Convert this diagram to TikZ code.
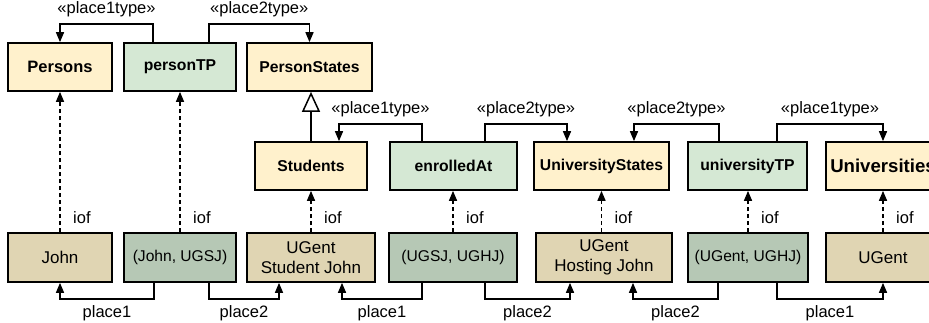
\documentclass[tikz,border=0pt]{standalone}
\usepackage{fontspec}
\setmainfont{Liberation Sans}
\usetikzlibrary{arrows.meta}
\definecolor{topY}{HTML}{FFF1CC}
\definecolor{topG}{HTML}{D5E8D4}
\definecolor{botY}{HTML}{E0D5B3}
\definecolor{botG}{HTML}{B6C8B5}
\tikzset{
  box/.style={draw=black, line width=1.7pt, inner sep=0pt, align=center},
  typebox/.style={box, minimum height=48pt, font=\fontsize{15.7}{18}\selectfont\bfseries},
  instbox/.style={box, minimum height=49pt, font=\fontsize{17}{20}\selectfont},
  pairbox/.style={instbox, fill=botG, font=\fontsize{15.6}{19}\selectfont},
  arr/.style={line width=1.5pt, -{Triangle[length=10pt,width=8pt]}},
  iofarr/.style={arr, dash pattern=on 4pt off 3pt},
  inh/.style={line width=1.5pt, -{Triangle[open,length=20pt,width=18pt,fill=white]}},
  lab/.style={font=\fontsize{16.5}{19}\selectfont, inner sep=0pt},
}
\begin{document}
\begin{tikzpicture}[x=1pt,y=-1pt]
\useasboundingbox (0,0) rectangle (929,322);
\clip (0,0) rectangle (929,322);
% top row
\node[typebox, fill=topY, minimum width=104pt, font=\fontsize{16.5}{19}\selectfont\bfseries] (Persons) at (60,67) {Persons};
\node[typebox, fill=topG, minimum width=112pt] (personTP) at (180,67) {personTP};
\node[typebox, fill=topY, minimum width=125pt] (PersonStates) at (309.5,67) {PersonStates};
% middle row
\node[typebox, fill=topY, minimum width=112pt] (Students) at (311,166) {Students};
\node[typebox, fill=topG, minimum width=127pt] (enrolledAt) at (453.5,166) {enrolledAt};
\node[typebox, fill=topY, minimum width=135pt] (UniversityStates) at (601.5,166) {UniversityStates};
\node[typebox, fill=topG, minimum width=119pt] (universityTP) at (747.5,166) {universityTP};
\node[typebox, fill=topY, minimum width=114pt, font=\fontsize{18.6}{21}\selectfont\bfseries] (Universities) at (883,166) {Universities};
% bottom row
\node[instbox, fill=botY, minimum width=104pt] (John) at (60,257.5) {John};
\node[pairbox, minimum width=112pt] (JU) at (180,257.5) {(John, UGSJ)};
\node[instbox, fill=botY, minimum width=128pt] (UGSJ) at (311,257.5) {UGent\\Student John};
\node[pairbox, minimum width=128pt] (UU) at (453,257.5) {(UGSJ, UGHJ)};
\node[instbox, fill=botY, minimum width=136pt] (UGHJ) at (604,257.5) {UGent\\Hosting John};
\node[pairbox, minimum width=120pt] (UGUG) at (748,257.5) {(UGent, UGHJ)};
\node[instbox, fill=botY, minimum width=114pt] (UGent) at (883,257.5) {UGent};
% type links top
\draw[arr] ([xshift=-27pt]personTP.north) -- ++(0,-18) -| node[lab, pos=0.25, above=6pt] {«place1type»} (Persons.north);
\draw[arr] ([xshift=29pt]personTP.north) -- ++(0,-18) -| node[lab, pos=0.25, above=6pt] {«place2type»} (PersonStates.north);
% type links middle
\draw[arr] ([xshift=-31.5pt]enrolledAt.north) -- ++(0,-17) -| node[lab, pos=0.25, above=6pt] {«place1type»} ([xshift=28pt]Students.north);
\draw[arr] ([xshift=31.5pt]enrolledAt.north) -- ++(0,-17) -| node[lab, pos=0.25, above=6pt] {«place2type»} ([xshift=-34.5pt]UniversityStates.north);
\draw[arr] ([xshift=-28.5pt]universityTP.north) -- ++(0,-17) -| node[lab, pos=0.25, above=6pt] {«place2type»} ([xshift=32.5pt]UniversityStates.north);
\draw[arr] ([xshift=29.5pt]universityTP.north) -- ++(0,-17) -| node[lab, pos=0.25, above=6pt] {«place1type»} (Universities.north);
% inheritance
\draw[inh] (Students.north) -- (Students.north |- PersonStates.south);
% iof
\foreach \b/\t in {John/Persons, JU/personTP, UGSJ/Students, UU/enrolledAt, UGUG/universityTP, UGent/Universities}{
  \draw[iofarr] (\b.north) -- (\b.north |- \t.south);
  \node[lab, anchor=west] at ([xshift=13pt,yshift=15pt]\b.north) {iof};
}
\draw[iofarr] (UniversityStates.south |- UGHJ.north) -- (UniversityStates.south);
\node[lab, anchor=west] at ([xshift=13pt,yshift=15pt]UniversityStates.south |- UGHJ.north) {iof};
% place links bottom
\draw[arr] ([xshift=-26pt]JU.south) -- ++(0,16) -| node[lab, pos=0.25, below=6pt] {place1} (John.south);
\draw[arr] ([xshift=29pt]JU.south) -- ++(0,16) -| node[lab, pos=0.25, below=6pt] {place2} ([xshift=-32pt]UGSJ.south);
\draw[arr] ([xshift=-31pt]UU.south) -- ++(0,16) -| node[lab, pos=0.25, below=6pt] {place1} ([xshift=31pt]UGSJ.south);
\draw[arr] ([xshift=32pt]UU.south) -- ++(0,16) -| node[lab, pos=0.25, below=6pt] {place2} ([xshift=-34pt]UGHJ.south);
\draw[arr] ([xshift=-30pt]UGUG.south) -- ++(0,16) -| node[lab, pos=0.25, below=6pt] {place2} ([xshift=29pt]UGHJ.south);
\draw[arr] ([xshift=29pt]UGUG.south) -- ++(0,16) -| node[lab, pos=0.25, below=6pt] {place1} (UGent.south);
\end{tikzpicture}
\end{document}
